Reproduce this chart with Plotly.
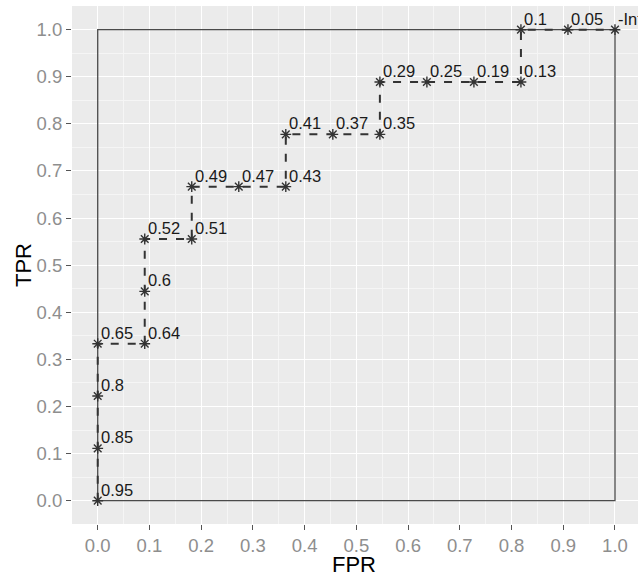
import plotly.graph_objects as go

# ---- data ----
fpr = [0.0, 0.0, 0.0, 0.0, 0.0909, 0.0909, 0.0909, 0.1818, 0.1818, 0.2727,
       0.3636, 0.3636, 0.4545, 0.5455, 0.5455, 0.6364, 0.7273, 0.8182,
       0.8182, 0.9091, 1.0]
tpr = [0.0, 0.1111, 0.2222, 0.3333, 0.3333, 0.4444, 0.5556, 0.5556, 0.6667,
       0.6667, 0.6667, 0.7778, 0.7778, 0.7778, 0.8889, 0.8889, 0.8889,
       0.8889, 1.0, 1.0, 1.0]
cutoffs = ["0.95", "0.85", "0.8", "0.65", "0.64", "0.6", "0.52", "0.51",
           "0.49", "0.47", "0.43", "0.41", "0.37", "0.35", "0.29", "0.25",
           "0.19", "0.13", "0.1", "0.05", "-Inf"]
box_x = [0.0, 1.0]
box_y = [0.0, 1.0]
tick_vals = [0.0, 0.1, 0.2, 0.3, 0.4, 0.5, 0.6, 0.7, 0.8, 0.9, 1.0]
tick_text = ["0.0", "0.1", "0.2", "0.3", "0.4", "0.5", "0.6", "0.7", "0.8", "0.9", "1.0"]

FONT = "Liberation Sans, Arial, sans-serif"

fig = go.Figure()

# outer box
fig.add_trace(go.Scatter(
    x=[box_x[0], box_x[1], box_x[1], box_x[0], box_x[0]],
    y=[box_y[0], box_y[0], box_y[1], box_y[1], box_y[0]],
    mode="lines", line=dict(color="#4a4a4a", width=1.3),
    hoverinfo="skip", showlegend=False))

# ROC step curve
fig.add_trace(go.Scatter(
    x=fpr, y=tpr, mode="lines+markers",
    line=dict(color="#333333", width=2, dash="8px,9px"),
    marker=dict(symbol="asterisk-open", size=9,
                line=dict(color="black", width=1.4)),
    cliponaxis=False, showlegend=False))

for xv, yv, t in zip(fpr, tpr, cutoffs):
    fig.add_annotation(x=xv, y=yv, xref="x", yref="y", text=t,
                       showarrow=False, xanchor="left", yanchor="bottom",
                       xshift=1, yshift=0,
                       font=dict(family=FONT, size=16.5, color="#1a1a1a"))

# axis titles
fig.add_annotation(x=0, y=0.5, xref="paper", yref="paper", text="TPR",
                   showarrow=False, textangle=-90, xanchor="center",
                   yanchor="middle", xshift=-49,
                   font=dict(family=FONT, size=22, color="black"))
fig.add_annotation(x=0.5, y=0, xref="paper", yref="paper", text="FPR",
                   showarrow=False, xanchor="center", yanchor="middle",
                   yshift=-40, xshift=-1,
                   font=dict(family=FONT, size=22, color="black"))

axis_common = dict(
    showgrid=True, gridcolor="white", gridwidth=1.1,
    zeroline=False, showline=False,
    ticks="outside", ticklen=5, tickwidth=1, tickcolor="#555555",
    tickvals=tick_vals, ticktext=tick_text,
    tickfont=dict(family=FONT, size=18.5, color="#8e8e8e"),
    minor=dict(dtick=0.05, tick0=0.05, showgrid=True, gridcolor="#f5f5f5",
               gridwidth=0.6, ticks=""),
)

fig.update_layout(
    width=638, height=579,
    margin=dict(l=72, r=0, t=6, b=55),
    paper_bgcolor="white", plot_bgcolor="#EBEBEB",
    xaxis=dict(range=[-0.0497, 1.0445], **axis_common),
    yaxis=dict(range=[-0.0495, 1.0503], **axis_common),
    font=dict(family=FONT),
)

fig.write_html("out.html")
